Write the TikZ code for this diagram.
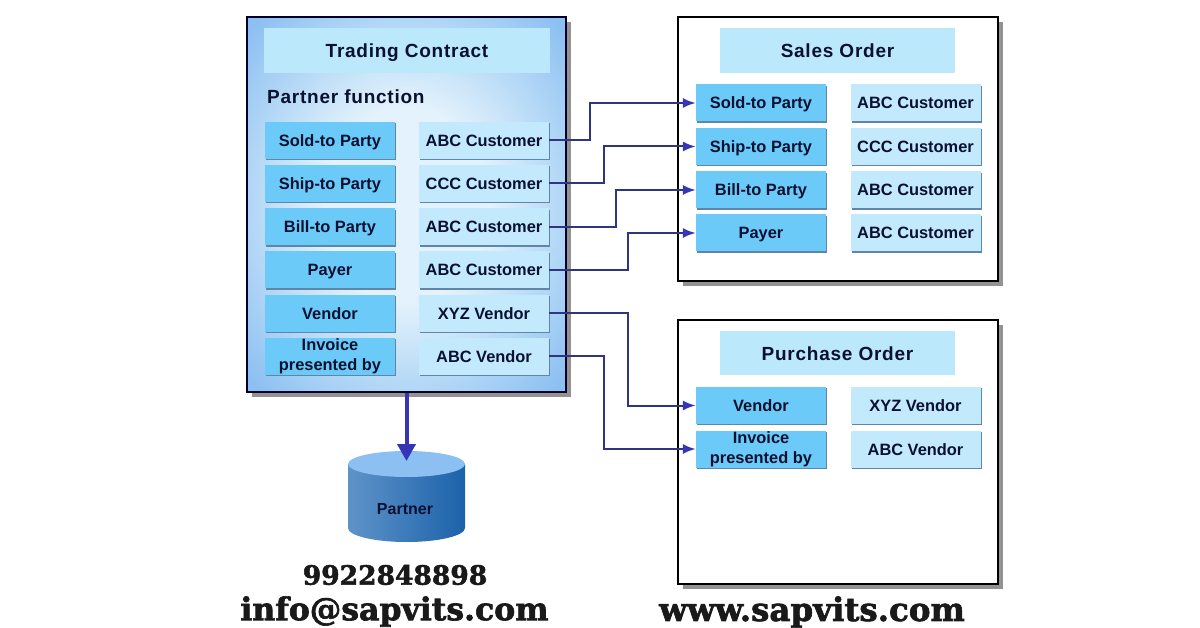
\documentclass[tikz,border=0pt]{standalone}
\usepackage{fontspec}
\usepackage{xcolor}
\usetikzlibrary{
    arrows.meta,
    shapes.geometric,
    shadows
}
\setmainfont{Liberation Sans}
\newfontfamily\titlefont[LetterSpace=4.0]{Liberation Sans}
\newfontfamily\contactfont[BoldFont={DejaVu Serif Bold},BoldFeatures={FakeBold=2}]{DejaVu Serif}

\definecolor{panelblue}{HTML}{8CBFF2}
\definecolor{panelmid}{HTML}{B4D8F6}
\definecolor{panelpale}{HTML}{E3F2FC}
\definecolor{titleblue}{HTML}{BCE8FB}
\definecolor{rolefill}{HTML}{6CCAF9}
\definecolor{namefill}{HTML}{C2EAFC}
\definecolor{edgeblue}{HTML}{5F86A6}
\definecolor{linkblue}{HTML}{2F3580}
\definecolor{tipblue}{HTML}{3535B5}
\definecolor{inkblue}{HTML}{0A1030}
\definecolor{drumleft}{HTML}{5F93C8}
\definecolor{drummid}{HTML}{6E9FD0}
\definecolor{drumright}{HTML}{1C62AA}
\pgfdeclareradialshading{panelglow}{\pgfpoint{0bp}{0bp}}{
    color(0bp)=(panelpale); color(13bp)=(panelpale);
    color(24bp)=(panelmid); color(34bp)=(panelblue); color(50bp)=(panelblue)}

\begin{document}
\begin{tikzpicture}[
    x=1pt, y=-1pt,
    panel/.style={draw=black, line width=2pt, fill=white, inner sep=0pt,
        general shadow={fill=gray!85, shadow xshift=5pt, shadow yshift=-5pt}},
    titlebox/.style={fill=titleblue, text=inkblue, inner sep=0pt,
        text height=14pt, text depth=0pt,
        font=\titlefont\fontsize{19}{24}\selectfont\bfseries},
    cellbox/.style={minimum width=130pt, minimum height=37pt, inner sep=0pt,
        align=center, text=inkblue, text height=12pt, text depth=0pt,
        font=\fontsize{16.4}{20}\selectfont\bfseries,
        general shadow={fill=edgeblue, shadow xshift=1.2pt, shadow yshift=-1.2pt}},
    rolecell/.style={cellbox, fill=rolefill},
    namecell/.style={cellbox, fill=namefill},
    twolines/.style={text height=, text depth=},
    link/.style={draw=linkblue, line width=2pt,
        -{Latex[length=13pt,width=10pt,color=tipblue]}},
    contact/.style={text=black!90, inner sep=0pt,
        font=\contactfont\fontsize{31.5}{34}\selectfont\bfseries}
]

\useasboundingbox (0,0) rectangle (1200,628);

% trading contract
\node[panel, shading=panelglow, shade,
    minimum width=319pt, minimum height=375pt, draw=black!85!blue]
    (trading) at (406.5,204.5) {};
\node[titlebox, minimum width=286pt, minimum height=45pt]
    (tradingtitle) at (407,50.5) {Trading Contract};
\node[anchor=west, inner sep=0pt, text=inkblue,
    font=\titlefont\fontsize{19}{24}\selectfont\bfseries]
    (partnerfunction) at (267,97) {Partner function};

\node[rolecell] (tsold) at (330,140.5) {Sold-to Party};
\node[rolecell] (tship) at (330,183.5) {Ship-to Party};
\node[rolecell] (tbill) at (330,227) {Bill-to Party};
\node[rolecell] (tpayer) at (330,270) {Payer};
\node[rolecell] (tvendor) at (330,313.5) {Vendor};
\node[rolecell, twolines] (tinvoice) at (330,356.5) {Invoice\\presented by};

\node[namecell] (tsoldname) at (484,140.5) {ABC Customer};
\node[namecell] (tshipname) at (484,183.5) {CCC Customer};
\node[namecell] (tbillname) at (484,227) {ABC Customer};
\node[namecell] (tpayername) at (484,270) {ABC Customer};
\node[namecell] (tvendorname) at (484,313.5) {XYZ Vendor};
\node[namecell] (tinvoicename) at (484,356.5) {ABC Vendor};

% sales order
\node[panel, minimum width=320pt, minimum height=264pt]
    (sales) at (838,149) {};
\node[titlebox, minimum width=235pt, minimum height=45pt]
    (salestitle) at (837.5,50.5) {Sales Order};

\node[rolecell] (ssold) at (761,103) {Sold-to Party};
\node[rolecell] (sship) at (761,146.5) {Ship-to Party};
\node[rolecell] (sbill) at (761,190) {Bill-to Party};
\node[rolecell] (spayer) at (761,233) {Payer};

\node[namecell] (ssoldname) at (915.5,103) {ABC Customer};
\node[namecell] (sshipname) at (915.5,146.5) {CCC Customer};
\node[namecell] (sbillname) at (915.5,190) {ABC Customer};
\node[namecell] (spayername) at (915.5,233) {ABC Customer};

% purchase order
\node[panel, minimum width=320pt, minimum height=264pt]
    (purchase) at (838,452) {};
\node[titlebox, minimum width=235pt, minimum height=44pt]
    (purchasetitle) at (837.5,353) {Purchase Order};

\node[rolecell] (pvendor) at (761,405.5) {Vendor};
\node[rolecell, twolines] (pinvoice) at (761,449) {Invoice\\presented by};

\node[namecell] (pvendorname) at (915.5,405.5) {XYZ Vendor};
\node[namecell] (pinvoicename) at (915.5,449) {ABC Vendor};

% partner store
\path[shade, left color=drumleft, middle color=drummid, right color=drumright]
    (348,464) -- (348,528)
    arc[start angle=180, end angle=0, x radius=58.5, y radius=14]
    -- (465,464) -- cycle;
\node[ellipse, fill=panelblue, minimum width=117pt, minimum height=26pt, inner sep=0pt]
    (partnertop) at (406.5,464) {};
\node[text=inkblue, inner sep=0pt, font=\fontsize{16}{18}\selectfont\bfseries]
    (partnerlabel) at (405,509) {Partner};

% links
\draw[link] (tsoldname.east) -- ++(41,0) |- (ssold.west);
\draw[link] (tshipname.east) -- ++(55,0) |- (sship.west);
\draw[link] (tbillname.east) -- ++(67,0) |- (sbill.west);
\draw[link] (tpayername.east) -- ++(79,0) |- (spayer.west);
\draw[link] (tvendorname.east) -- ++(79,0) |- (pvendor.west);
\draw[link] (tinvoicename.east) -- ++(55,0) |- (pinvoice.west);

\draw[draw=tipblue, line width=4pt, shorten >=3pt,
    -{Triangle[length=17pt,width=18pt]}] (trading.south) -- (partnertop.center);

% contact lines
\node[contact, font=\contactfont\fontsize{26.5}{30}\selectfont\bfseries]
    (phone) at (395,575) {9922848898};
\node[contact] (mail) at (394.5,611.5) {info@sapvits.com};
\node[contact, font=\contactfont\fontsize{32.5}{34}\selectfont\bfseries]
    (web) at (812,612) {www.sapvits.com};

\end{tikzpicture}
\end{document}
